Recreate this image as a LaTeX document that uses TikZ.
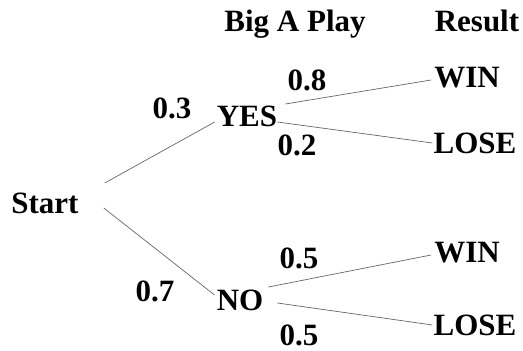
\documentclass[tikz,border=0pt]{standalone}
\usepackage{fontspec}
\setmainfont{Liberation Serif}[BoldFont={Liberation Serif Bold}]
\tikzset{
  lbl/.style={font=\fontsize{31}{31}\selectfont\bfseries,inner sep=0pt,
    text height=20.5pt,text depth=0pt},
  ast/.style={draw=black!60,line width=0.7pt}
}
\begin{document}
\begin{tikzpicture}[x=1pt,y=-1pt]
    \useasboundingbox (0,0) rectangle (523,351);
    % Kopfzeile
    \node[lbl] (bigA) at (295,21) {Big A Play};
    \node[lbl] (result) at (477,21) {Result};

    % Knoten
    \node[lbl] (start) at (45,203) {Start};
    \node[lbl] (yes) at (247,116) {YES};
    \node[lbl] (no) at (240,300) {NO};
    \node[lbl] (winA) at (467,77) {WIN};
    \node[lbl] (loseA) at (475,143) {LOSE};
    \node[lbl] (winB) at (467,252) {WIN};
    \node[lbl] (loseB) at (475,325) {LOSE};

    % Wahrscheinlichkeiten
    \node[lbl] (pYes) at (172,108) {0.3};
    \node[lbl] (pNo) at (155,291) {0.7};
    \node[lbl] (pWinA) at (307,80) {0.8};
    \node[lbl] (pLoseA) at (297,145) {0.2};
    \node[lbl] (pWinB) at (299,258) {0.5};
    \node[lbl] (pLoseB) at (299,335) {0.5};

    % Aeste
    \draw[ast] ([xshift=26pt,yshift=20pt]start.east) -- ([xshift=-2pt,yshift=-6pt]yes.west);
    \draw[ast] ([xshift=25pt,yshift=-5pt]start.east) -- ([xshift=-2pt,yshift=5pt]no.west);
    \draw[ast] ([xshift=8pt,yshift=12pt]yes.east) -- ([xshift=-3pt,yshift=-3pt]winA.west);
    \draw[ast] ([yshift=-6pt]yes.east) -- ([xshift=-1pt]loseA.west);
    \draw[ast] ([xshift=5pt,yshift=13pt]no.east) -- ([xshift=-3pt,yshift=-3pt]winB.west);
    \draw[ast] ([xshift=14pt,yshift=-3pt]no.east) -- ([xshift=-1pt]loseB.west);
\end{tikzpicture}
\end{document}
